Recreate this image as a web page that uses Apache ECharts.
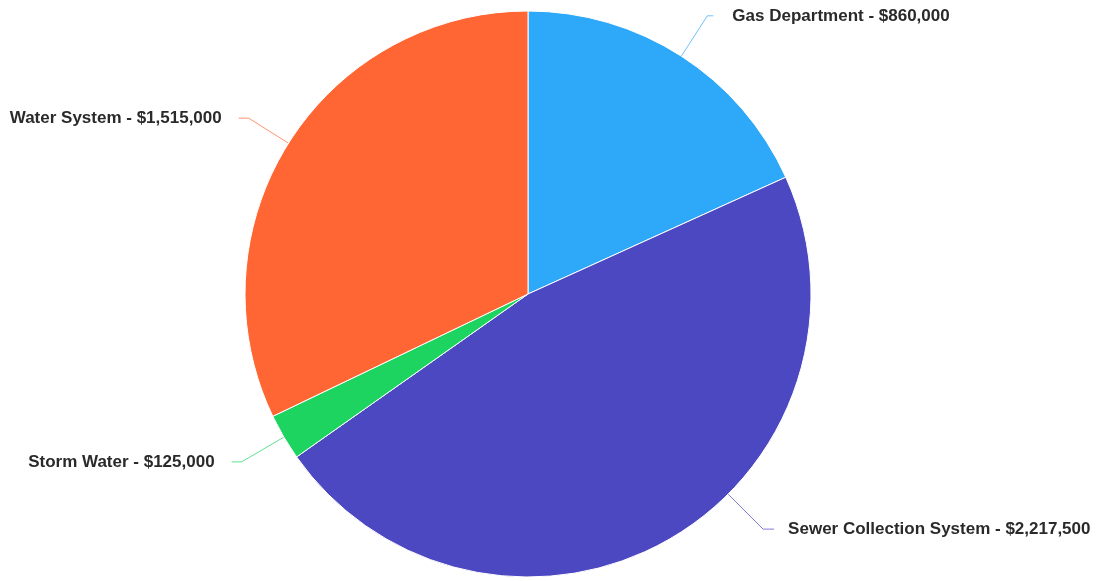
<!DOCTYPE html>
<html>
<head>
<meta charset="utf-8">
<script src="https://cdn.jsdelivr.net/npm/echarts@6/dist/echarts.min.js"></script>
<style>
html,body{margin:0;padding:0;background:#fff;}
#chart{width:1099px;height:581px;}
</style>
</head>
<body>
<div id="chart"></div>
<script>
var categories = ['Gas Department', 'Sewer Collection System', 'Storm Water', 'Water System'];
var values = [860000, 2217500, 125000, 1515000];
var colors = ['#2EA8F8', '#4B48C2', '#1DD460', '#FF6633'];
// label line lengths (first, second segment) and gap to the text, per slice
var lineLen = [[48, 6, 19], [30, 14, 5], [49, 10, 17], [47, 10, 17]];

var PIE_CENTER = [528, 294];
var PIE_R = 283;
// the big slice's label line leaves the arc at its own angle (deg clockwise from top)
var sewerGuide = { index: 1, angle: 135, length: 49.5, length2: 11, gap: 14 };

function fmt(v) {
  return '$' + v.toString().replace(/\B(?=(\d{3})+(?!\d))/g, ',');
}

var data = categories.map(function (c, i) {
  return {
    name: c, value: values[i],
    itemStyle: { color: colors[i] },
    labelLine: { length: lineLen[i][0], length2: lineLen[i][1] },
    label: { distanceToLabelLine: lineLen[i][2] }
  };
});

var chart = echarts.init(document.getElementById('chart'));
chart.setOption({
  backgroundColor: '#ffffff',
  animation: false,
  series: [{
    type: 'pie',
    center: PIE_CENTER,
    radius: PIE_R,
    startAngle: 90,
    clockwise: true,
    avoidLabelOverlap: false,
    data: data,
    itemStyle: { borderColor: '#ffffff', borderWidth: 1 },
    label: {
      show: true,
      formatter: function (p) { return p.name + ' - ' + fmt(p.value); },
      fontFamily: 'Liberation Sans, Arial, sans-serif',
      fontWeight: 'bold',
      fontSize: 17,
      color: '#2a2a2a'
    },
    labelLine: {
      show: true,
      length: 30,
      length2: 14,
      lineStyle: { width: 1, opacity: 0.7 }
    },
    labelLayout: function (p) {
      if (p.dataIndex !== sewerGuide.index) return {};
      var a = sewerGuide.angle * Math.PI / 180;
      var ux = Math.sin(a), uy = -Math.cos(a);
      var p0 = [PIE_CENTER[0] + PIE_R * ux, PIE_CENTER[1] + PIE_R * uy];
      var p1 = [p0[0] + sewerGuide.length * ux, p0[1] + sewerGuide.length * uy];
      var p2 = [p1[0] + sewerGuide.length2, p1[1]];
      return {
        x: p2[0] + sewerGuide.gap,
        y: p2[1],
        align: 'left',
        verticalAlign: 'middle',
        labelLinePoints: [p0, p1, p2]
      };
    }
  }]
});
</script>
</body>
</html>
